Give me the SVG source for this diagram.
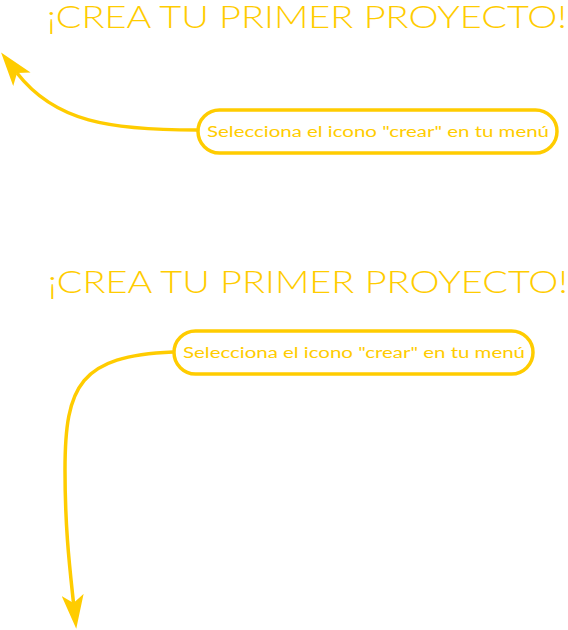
<svg xmlns="http://www.w3.org/2000/svg" width="568" height="630" viewBox="0 0 568 630">
<style>
.title{font-family:Lato,"Open Sans","Liberation Sans",sans-serif;font-size:32px;fill:#FFCC00;font-weight:300}
.lbl{font-family:Lato,"Open Sans","Liberation Sans",sans-serif;font-size:15.5px;fill:#FFCC00;font-weight:400}
.box{fill:#FFFFFF;stroke:#FFCC00;stroke-width:3.5}
.conn{fill:none;stroke:#FFCC00;stroke-width:3.5}
</style>
<defs>
<marker id="arr" viewBox="0 0 34 22" refX="8" refY="11" markerWidth="34" markerHeight="22" markerUnits="userSpaceOnUse" orient="auto">
<path d="M0,0 L34,11 L0,22 L8,11 Z" fill="#FFCC00"/>
</marker>
</defs>
<rect width="568" height="630" fill="#FFFFFF"/>
<g id="connectors">
<path class="conn" d="M197,130 C110,130 55,122 17,73" marker-end="url(#arr)"/>
<path class="conn" d="M173,352 C80,356 65,385 65,470 C65,530 70,570 73.5,603" marker-end="url(#arr)"/>
</g>
<g id="title1"><text class="title" x="47" y="28" textLength="520" lengthAdjust="spacingAndGlyphs">¡CREA TU PRIMER PROYECTO!</text></g>
<g id="node1">
<rect class="box" x="198" y="110" width="359" height="43" rx="21.5"/>
<text class="lbl" x="207" y="137" textLength="342" lengthAdjust="spacingAndGlyphs">Selecciona el icono "crear" en tu menú</text>
</g>
<g id="title2"><text class="title" x="48" y="293" textLength="520" lengthAdjust="spacingAndGlyphs">¡CREA TU PRIMER PROYECTO!</text></g>
<g id="node2">
<rect class="box" x="174" y="331" width="359" height="43" rx="21.5"/>
<text class="lbl" x="183" y="358" textLength="342" lengthAdjust="spacingAndGlyphs">Selecciona el icono "crear" en tu menú</text>
</g>
</svg>
